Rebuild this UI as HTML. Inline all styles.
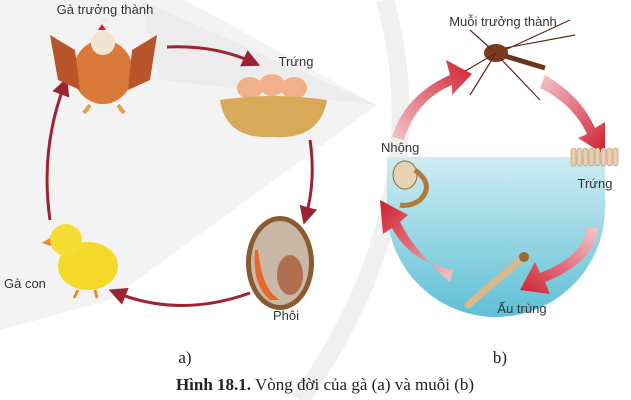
<!DOCTYPE html>
<html><head><meta charset="utf-8"><style>
html,body{margin:0;padding:0;background:#fff}
svg{display:block}
.l{font-family:"Liberation Sans",sans-serif;font-size:13px;fill:#333}
.c{font-family:"Liberation Serif",serif;font-size:17px;fill:#222}
</style></head><body>
<svg width="631" height="400" viewBox="0 0 631 400" xmlns="http://www.w3.org/2000/svg">
<defs>
<marker id="ah" markerWidth="6" markerHeight="6" refX="3" refY="3" orient="auto" markerUnits="strokeWidth"><path d="M0,0 L6,3 L0,6 z" fill="#9b2430"/></marker>
<linearGradient id="g1" x1="0" y1="1" x2="1" y2="0"><stop offset="0" stop-color="#f4c6cc"/><stop offset="1" stop-color="#cf1f2e"/></linearGradient>
<linearGradient id="g2" x1="0" y1="0" x2="1" y2="1"><stop offset="0" stop-color="#f4c6cc"/><stop offset="1" stop-color="#cf1f2e"/></linearGradient>
<linearGradient id="g3" x1="1" y1="0" x2="0" y2="1"><stop offset="0" stop-color="#f4c6cc"/><stop offset="1" stop-color="#cf1f2e"/></linearGradient>
<linearGradient id="g4" x1="1" y1="1" x2="0" y2="0"><stop offset="0" stop-color="#f4c6cc"/><stop offset="1" stop-color="#cf1f2e"/></linearGradient>
<linearGradient id="w" x1="0" y1="0" x2="0" y2="1"><stop offset="0" stop-color="#cfecf2"/><stop offset="1" stop-color="#5fc0d6"/></linearGradient>
</defs>
<polygon points="0,0 185,0 377,105 110,300 0,330" fill="#f3f3f3"/>
<polygon points="140,0 377,105 160,80" fill="#ececec"/>
<path d="M385,0 Q440,200 300,400" stroke="#f0f0f0" stroke-width="18" fill="none"/>
<path d="M387,157 L605,157 L605,208 A109,109 0 0 1 387,208 Z" fill="url(#w)"/>
<g stroke="#9b2430" stroke-width="3" fill="none" marker-end="url(#ah)">
<path d="M167,47 Q215,45 252,62"/>
<path d="M310,140 Q316,180 306,216"/>
<path d="M250,293 Q180,318 117,293"/>
<path d="M50,220 Q40,150 64,86"/>
</g>
<ellipse cx="103" cy="72" rx="30" ry="32" fill="#d97a3a"/>
<path d="M50,35 L75,50 L80,90 L58,80 Z" fill="#b9552a"/>
<path d="M157,35 L132,50 L128,90 L150,80 Z" fill="#b9552a"/>
<circle cx="103" cy="43" r="12" fill="#f1e4d2"/>
<path d="M98,30 l4,-6 l4,6 z" fill="#d82030"/>
<path d="M90,105 l-6,8 M118,105 l6,8" stroke="#e3a24b" stroke-width="4"/>
<ellipse cx="250" cy="88" rx="13" ry="11" fill="#f0b08a"/>
<ellipse cx="272" cy="85" rx="13" ry="11" fill="#f0b08a"/>
<ellipse cx="294" cy="88" rx="13" ry="11" fill="#f0b08a"/>
<path d="M220,100 Q273,92 327,100 Q320,140 273,137 Q226,140 220,100 Z" fill="#d8a958"/>
<ellipse cx="280" cy="263" rx="34" ry="47" fill="#8a5a30"/>
<ellipse cx="280" cy="263" rx="29" ry="42" fill="#c9b7a8"/>
<path d="M258,250 Q262,290 280,300 L270,300 Q252,285 255,250 Z" fill="#e8682a"/>
<ellipse cx="290" cy="275" rx="13" ry="20" fill="#b07050"/>
<ellipse cx="88" cy="266" rx="30" ry="24" fill="#f4d82a"/>
<circle cx="66" cy="240" r="16" fill="#f6dd33"/>
<path d="M50,238 l-8,5 l9,3 z" fill="#f08a20"/>
<path d="M78,290 l-4,8 M95,290 l2,8" stroke="#f08a20" stroke-width="3"/>
<ellipse cx="496" cy="53" rx="12" ry="9" fill="#7a3a20"/>
<path d="M505,56 L545,68" stroke="#6b3520" stroke-width="5"/>
<path d="M496,53 L450,80 M496,53 L470,95 M500,58 L540,100 M505,50 L570,20 M505,48 L575,35 M490,48 L470,30" stroke="#5a2a18" stroke-width="1.2" fill="none"/>
<path d="M392,137 Q405,95 450,75 L446,60 L472,74 L452,95 L452,85 Q416,100 404,140 Z" fill="url(#g1)"/>
<path d="M545,75 Q580,95 595,128 L605,122 L605,155 L578,138 L587,134 Q573,104 540,88 Z" fill="url(#g2)"/>
<path d="M598,228 Q595,262 545,282 L550,294 L520,290 L535,262 L540,273 Q585,255 586,228 Z" fill="url(#g3)"/>
<path d="M453,270 Q410,262 392,228 L383,234 L380,200 L408,215 L400,222 Q415,252 450,282 Z" fill="url(#g4)"/>
<g fill="#e8cfae" stroke="#b89070" stroke-width="0.6">
<rect x="571" y="148" width="5" height="18" rx="2.5"/><rect x="577" y="148" width="5" height="18" rx="2.5"/><rect x="583" y="148" width="5" height="18" rx="2.5"/><rect x="589" y="148" width="5" height="18" rx="2.5"/><rect x="595" y="148" width="5" height="18" rx="2.5"/><rect x="601" y="148" width="5" height="18" rx="2.5"/><rect x="607" y="148" width="5" height="18" rx="2.5"/><rect x="613" y="148" width="5" height="18" rx="2.5"/>
</g>
<ellipse cx="405" cy="175" rx="12" ry="14" fill="#e6d3b4" stroke="#8a6a40"/>
<path d="M415,170 Q435,185 420,200 Q410,207 400,205" stroke="#b07a3a" stroke-width="5" fill="none"/>
<path d="M525,256 L468,305" stroke="#d9b88a" stroke-width="7" stroke-linecap="round"/>
<circle cx="524" cy="257" r="5" fill="#9b6a30"/>
<text class="l" x="105" y="14" text-anchor="middle">Gà trưởng thành</text>
<text class="l" x="296" y="66" text-anchor="middle">Trứng</text>
<text class="l" x="286" y="320" text-anchor="middle">Phôi</text>
<text class="l" x="4" y="288">Gà con</text>
<text class="l" x="503" y="26" text-anchor="middle">Muỗi trưởng thành</text>
<text class="l" x="381" y="152">Nhộng</text>
<text class="l" x="595" y="188" text-anchor="middle">Trứng</text>
<text class="l" x="522" y="313" text-anchor="middle">Ấu trùng</text>
<text class="c" x="185" y="363" text-anchor="middle">a)</text>
<text class="c" x="500" y="363" text-anchor="middle">b)</text>
<text class="c" x="325" y="390" text-anchor="middle"><tspan font-weight="bold">Hình 18.1.</tspan> Vòng đời của gà (a) và muỗi (b)</text>
</svg>
</body></html>
